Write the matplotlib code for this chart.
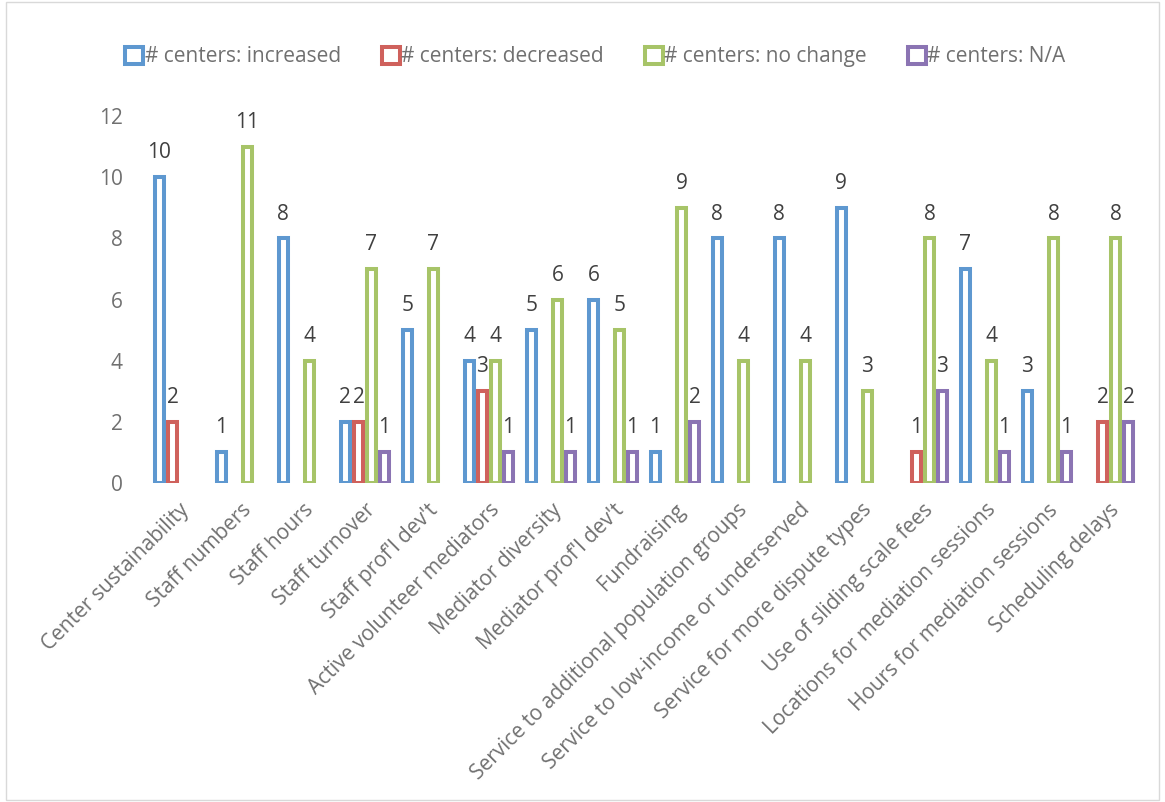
import numpy as np
import matplotlib
matplotlib.use("Agg")
import matplotlib.pyplot as plt
from matplotlib.patches import Rectangle

plt.rcParams['font.family'] = ['Open Sans', 'DejaVu Sans']

# categories and counts (nan = no bar / no label)
categories = ["Center sustainability", "Staff numbers", "Staff hours", "Staff turnover",
              "Staff prof'l dev't", "Active volunteer mediators", "Mediator diversity",
              "Mediator prof'l dev't", "Fundraising", "Service to additional population groups",
              "Service to low-income or underserved", "Service for more dispute types",
              "Use of sliding scale fees", "Locations for mediation sessions",
              "Hours for mediation sessions", "Scheduling delays"]
nan = np.nan
increased = [10, 1, 8, 2, 5, 4, 5, 6, 1, 8, 8, 9, nan, 7, 3, nan]
decreased = [2, nan, nan, 2, nan, 3, nan, nan, nan, nan, nan, nan, 1, nan, nan, 2]
no_change = [nan, 11, 4, 7, 7, 4, 6, 5, 9, 4, 4, 3, 8, 4, 8, 8]
not_appl = [nan, nan, nan, 1, nan, 1, 1, 1, 2, nan, nan, nan, 3, 1, 1, 2]

series = [("# centers: increased", increased, "#5E98D0"),
          ("# centers: decreased", decreased, "#CF615C"),
          ("# centers: no change", no_change, "#A7C468"),
          ("# centers: N/A", not_appl, "#8B74B3")]

fig = plt.figure(figsize=(11.65, 8.02), dpi=100)
ax = fig.add_axes([0.127, 0.398, 0.8515, 0.457])

x = np.arange(len(categories))
step = 0.21
bw = 0.145
handles = []
for i, (name, vals, col) in enumerate(series):
    off = (i - 1.5) * step
    vals = np.array(vals, dtype=float)
    ok = ~np.isnan(vals)
    ax.bar(x[ok] + off, vals[ok], width=bw, facecolor="white", edgecolor=col, linewidth=2.9)
    for xi, v in zip(x[ok] + off, vals[ok]):
        ax.annotate(f"{int(v)}", (xi, v), xytext=(0, 10), textcoords="offset points",
                    ha="center", va="bottom", fontsize=15, color="#404040")
    handles.append(Rectangle((0, 0), 1, 1, facecolor="white", edgecolor=col, linewidth=2.9, label=name))

ax.set_xlim(-0.5, len(categories) - 0.5)
ax.set_ylim(0, 12)
ax.set_yticks(range(0, 13, 2))
ax.set_xticks(x)
ax.set_xticklabels(categories, rotation=45, ha="right", rotation_mode="anchor",
                   fontsize=15, color="#707070")
ax.tick_params(axis="both", length=0)
ax.tick_params(axis="y", labelsize=15, labelcolor="#707070", pad=18)
ax.tick_params(axis="x", pad=12)
for s in ax.spines.values():
    s.set_visible(False)

fig.legend(handles=handles, loc="center", bbox_to_anchor=(0.511, 0.929), ncol=4, frameon=False,
           fontsize=15, labelcolor="#707070", handlelength=0.87, handleheight=0.87,
           handletextpad=0.08, columnspacing=1.95)

fig.patches.append(Rectangle((0.005, 0.003), 0.99, 0.994, transform=fig.transFigure,
                             fill=False, edgecolor="#D9D9D9", linewidth=1))

fig.savefig("out.png", dpi=100)
